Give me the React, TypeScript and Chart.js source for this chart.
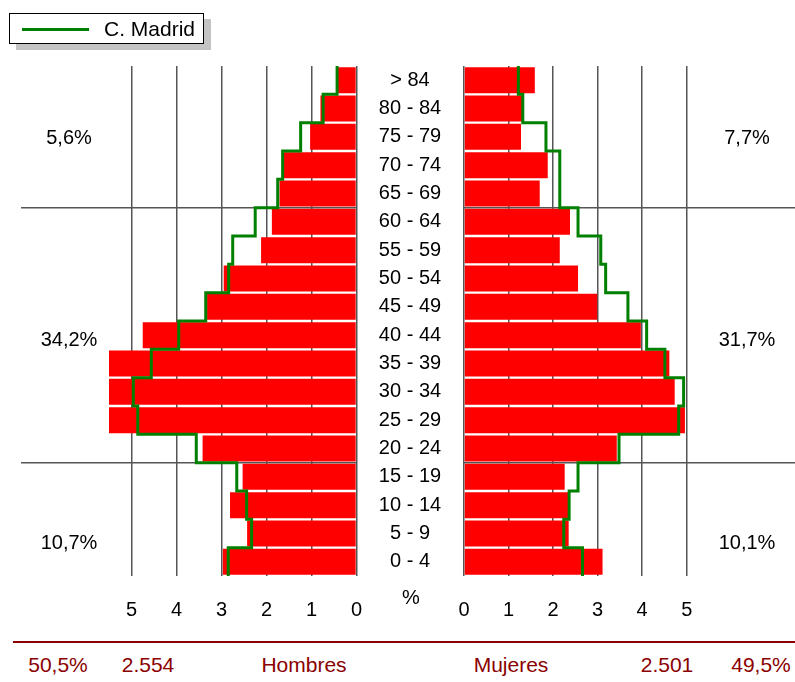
import React, { useEffect, useRef } from 'react';
import { Chart, registerables } from 'chart.js';

Chart.register(...registerables);

// ---------- data ----------
const ageGroups = [
  '> 84', '80 - 84', '75 - 79', '70 - 74', '65 - 69', '60 - 64', '55 - 59', '50 - 54', '45 - 49',
  '40 - 44', '35 - 39', '30 - 34', '25 - 29', '20 - 24', '15 - 19', '10 - 14', '5 - 9', '0 - 4',
];
const hombres = [0.41, 0.8, 1.03, 1.61, 1.71, 1.88, 2.12, 2.95, 3.32, 4.75, 5.5, 5.5, 5.5, 3.42, 2.53, 2.81, 2.43, 2.97];
const mujeres = [1.59, 1.32, 1.28, 1.88, 1.7, 2.38, 2.15, 2.56, 2.99, 3.97, 4.61, 4.73, 4.96, 3.43, 2.26, 2.34, 2.35, 3.11];
const madridHombres = [0.43, 0.74, 1.24, 1.64, 1.75, 2.25, 2.75, 2.84, 3.35, 3.95, 4.56, 4.96, 4.86, 3.56, 2.66, 2.44, 2.33, 2.85];
const madridMujeres = [1.22, 1.32, 1.84, 2.15, 2.15, 2.56, 3.07, 3.18, 3.68, 4.1, 4.51, 4.93, 4.82, 3.48, 2.56, 2.36, 2.24, 2.66];
const xMax = 5.5;
const leftShares = ['5,6%', '34,2%', '10,7%'];
const rightShares = ['7,7%', '31,7%', '10,1%'];
const sharePositions = [2.05, 9.2, 16.34];
const groupBreaks = [4.5, 13.5];
const footerLabels = ['50,5%', '2.554', 'Hombres', 'Mujeres', '2.501', '49,5%'];
const footerX = [58, 148, 304, 511, 667, 761];

const FONT = "'Liberation Sans', Arial, sans-serif";

function stepPoints(vals: number[]) {
  const pts: { x: number; y: number }[] = [];
  vals.forEach((v, i) => {
    pts.push({ x: v, y: i - 0.5 });
    pts.push({ x: v, y: i + 0.5 });
  });
  return pts;
}

function makeAnnot(isLeft: boolean) {
  return {
    id: 'annot' + (isLeft ? 'L' : 'R'),
    beforeDatasetsDraw(chart: any) {
      const ctx = chart.ctx;
      const yl = chart.scales.yl;
      const area = chart.chartArea;
      ctx.save();
      ctx.strokeStyle = '#555';
      ctx.lineWidth = 1.5;
      groupBreaks.forEach((b) => {
        const y = yl.getPixelForValue(b);
        ctx.beginPath();
        if (isLeft) {
          ctx.moveTo(21, y);
          ctx.lineTo(area.right, y);
        } else {
          ctx.moveTo(area.left, y);
          ctx.lineTo(chart.width, y);
        }
        ctx.stroke();
      });
      ctx.restore();
    },
    afterDraw(chart: any) {
      const ctx = chart.ctx;
      const yl = chart.scales.yl;
      const area = chart.chartArea;
      ctx.save();
      ctx.fillStyle = '#000';
      ctx.textAlign = 'center';
      ctx.textBaseline = 'middle';
      ctx.font = `20px ${FONT}`;
      const shares = isLeft ? leftShares : rightShares;
      const sx = isLeft ? 69 : 747 - 357;
      shares.forEach((t, i) => ctx.fillText(t, sx, yl.getPixelForValue(sharePositions[i])));
      if (!isLeft) {
        const ys = chart.scales.y;
        const cx = area.left - 54;
        ageGroups.forEach((g, i) => ctx.fillText(g, cx, ys.getPixelForValue(i)));
        ctx.fillText('%', cx + 1, 598);
      }
      ctx.restore();
    },
  };
}

function makeConfig(isLeft: boolean): any {
  return {
    type: 'bar',
    data: {
      labels: ageGroups,
      datasets: [
        {
          type: 'bar',
          label: isLeft ? 'Hombres' : 'Mujeres',
          data: isLeft ? hombres : mujeres,
          indexAxis: 'y',
          backgroundColor: '#FF0000',
          borderWidth: 0,
          grouped: false,
          categoryPercentage: 1,
          barPercentage: 0.92,
          xAxisID: 'x',
          yAxisID: 'y',
          order: 1,
        },
        {
          type: 'line',
          label: 'C. Madrid',
          data: stepPoints(isLeft ? madridHombres : madridMujeres),
          indexAxis: 'y',
          borderColor: '#008000',
          borderWidth: 3,
          pointRadius: 0,
          fill: false,
          tension: 0,
          xAxisID: 'x',
          yAxisID: 'yl',
          order: 0,
        },
      ],
    },
    options: {
      indexAxis: 'y',
      animation: false,
      responsive: false,
      maintainAspectRatio: false,
      layout: {
        padding: isLeft
          ? { left: 109, right: 2, top: 66, bottom: 0 }
          : { left: 107, right: 86, top: 66, bottom: 0 },
      },
      plugins: { legend: { display: false }, tooltip: { enabled: false } },
      scales: {
        x: {
          type: 'linear',
          min: 0,
          max: xMax,
          reverse: isLeft,
          offset: false,
          grid: { color: '#555', lineWidth: 1.5, drawTicks: true, tickLength: 22, tickColor: 'rgba(0,0,0,0)' },
          border: { display: false },
          ticks: {
            stepSize: 1,
            includeBounds: false,
            padding: 0,
            color: '#000',
            font: { family: FONT, size: 20 },
          },
          afterFit: (s: any) => {
            s.height = 54;
          },
        },
        y: { type: 'category', display: false, offset: true, grid: { display: false } },
        yl: { type: 'linear', display: false, offset: false, min: -0.5, max: 17.5, reverse: true },
      },
    },
    plugins: [makeAnnot(isLeft)],
  };
}

export default function App() {
  const leftRef = useRef<HTMLCanvasElement>(null);
  const rightRef = useRef<HTMLCanvasElement>(null);

  useEffect(() => {
    const l = new Chart(leftRef.current as HTMLCanvasElement, makeConfig(true));
    const r = new Chart(rightRef.current as HTMLCanvasElement, makeConfig(false));
    return () => {
      l.destroy();
      r.destroy();
    };
  }, []);

  return (
    <div style={{ position: 'fixed', left: 0, top: 0, width: 795, height: 682, background: '#fff', overflow: 'hidden', fontFamily: FONT }}>
      <canvas ref={leftRef} width={362} height={630} style={{ position: 'absolute', left: 0, top: 0, width: 362, height: 630 }} />
      <canvas ref={rightRef} width={438} height={630} style={{ position: 'absolute', left: 357, top: 0, width: 438, height: 630 }} />
      <div
        style={{
          position: 'absolute', left: 9, top: 13, width: 195, height: 31, boxSizing: 'border-box',
          border: '1px solid #000', background: '#fff', boxShadow: '7px 6px 0 #c4c4c4',
        }}
      >
        <div style={{ position: 'absolute', left: 12, top: 14, width: 67, height: 3, background: '#008000' }} />
        <span style={{ position: 'absolute', left: 94, top: 0, fontSize: 21, lineHeight: '29px', color: '#000', whiteSpace: 'nowrap' }}>
          C. Madrid
        </span>
      </div>
      <div style={{ position: 'absolute', left: 13, top: 641, width: 782, height: 2, background: '#8B0000' }} />
      {footerLabels.map((t, i) => (
        <span
          key={t}
          style={{
            position: 'absolute', left: footerX[i], top: 665, transform: 'translate(-50%, -50%)',
            fontSize: 21, color: '#8B0000', whiteSpace: 'nowrap', lineHeight: '24px',
          }}
        >
          {t}
        </span>
      ))}
    </div>
  );
}
